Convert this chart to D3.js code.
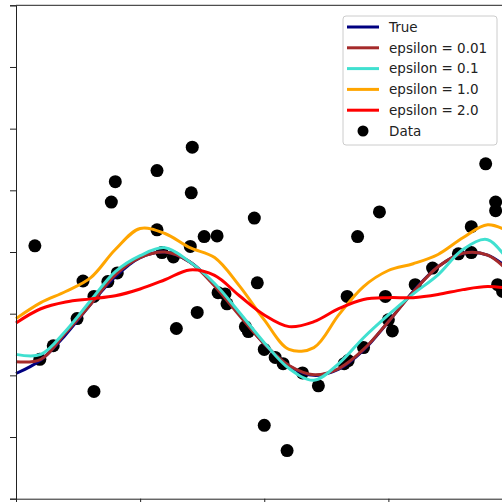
<!DOCTYPE html>
<html>
<head>
<meta charset="utf-8">
<script src="https://cdn.jsdelivr.net/npm/d3@7"></script>
<style>
  html, body { margin: 0; padding: 0; background: #fff; }
  svg { display: block; font-family: "DejaVu Sans", sans-serif; }
</style>
</head>
<body>
<svg id="chart" width="502" height="502"></svg>
<script>
// sample positions shared by all fitted curves
const xGrid = [0, 0.5, 1, 1.5, 2, 2.5, 3, 3.5, 4, 4.5, 5, 5.5, 6, 6.5, 7, 7.5, 8, 8.5, 9, 9.5, 10];

const yTrue  = [-0.97, -0.75, -0.34, 0.15, 0.60, 0.91, 1.00, 0.84, 0.47, -0.01, -0.49, -0.85, -1.00, -0.90, -0.59, -0.13, 0.36, 0.76, 0.98, 0.95, 0.67];
const yEps001 = [-0.78, -0.74, -0.31, 0.15, 0.63, 0.91, 1.00, 0.84, 0.45, -0.03, -0.49, -0.84, -0.99, -0.89, -0.58, -0.13, 0.35, 0.76, 0.98, 0.95, 0.62];
const yEps01 = [-0.66, -0.66, -0.28, 0.21, 0.68, 0.94, 1.07, 0.84, 0.49, 0.02, -0.47, -0.89, -1.08, -0.81, -0.39, -0.02, 0.32, 0.63, 1.04, 1.20, 0.75];
const yEps1  = [-0.08, 0.18, 0.36, 0.58, 1.04, 1.38, 1.30, 1.07, 0.91, 0.45, -0.10, -0.58, -0.55, -0.02, 0.44, 0.70, 0.81, 0.96, 1.23, 1.44, 1.30];
const yEps2  = [-0.15, 0.08, 0.19, 0.24, 0.29, 0.40, 0.55, 0.71, 0.62, 0.29, -0.02, -0.21, -0.13, 0.08, 0.23, 0.26, 0.26, 0.31, 0.39, 0.44, 0.40];

const seriesNames = ["True", "epsilon = 0.01", "epsilon = 0.1", "epsilon = 1.0", "epsilon = 2.0"];
const seriesColors = ["#000080", "#a52a2a", "#40e0d0", "#ffa500", "#ff0000"];
const seriesValues = [yTrue, yEps001, yEps01, yEps1, yEps2];

// noisy observations
const dataX = [0.38, 0.48, 0.75, 1.23, 1.35, 1.57, 1.57, 1.85, 1.92, 2.00, 2.04, 2.84, 2.84, 2.94, 3.17, 3.23, 3.51, 3.53, 3.55, 3.65,
               3.79, 4.05, 4.07, 4.21, 4.25, 4.62, 4.68, 4.80, 4.86, 5.00, 5.00, 5.22, 5.38, 5.46, 5.77, 6.09, 6.61, 6.69, 6.67, 6.88,
               7.00, 7.32, 7.44, 7.50, 7.58, 8.04, 8.39, 8.91, 9.17, 9.17, 9.46, 9.66, 9.66, 9.70, 9.80];
const dataY = [1.10, -0.74, -0.52, -0.08, 0.53, 0.28, -1.26, 0.52, 1.81, 2.14, 0.66, 2.32, 1.36, 0.99, 0.92, -0.24, 1.09, 1.96, 2.70, 0.02,
               1.25, 1.26, 0.34, 0.32, 0.16, -0.21, -0.29, 1.55, 0.50, -1.81, -0.58, -0.71, -0.81, -2.22, -0.96, -1.17, -0.81, -0.76, 0.28, 1.25,
               -0.55, 1.65, 0.28, -0.10, -0.28, 0.47, 0.74, 0.97, 0.99, 1.41, 2.43, 1.81, 1.67, 0.47, 0.36];

const xTicks = [0, 2.5, 5, 7.5, 10];
const yTicks = [-3, -2, -1, 0, 1, 2, 3, 4, 5];

const svg = d3.select("#chart");

const x = d3.scaleLinear().domain([0, 10]).range([16, 512.5]);
const y = d3.scaleLinear().domain([-3, 5]).range([498.7, 5.3]);

const plot = svg.append("g");

// scatter first, lines drawn over it
plot.selectAll("circle.dot")
    .data(dataX.map((d, i) => [d, dataY[i]]))
    .enter().append("circle")
    .attr("class", "dot")
    .attr("cx", d => x(d[0]))
    .attr("cy", d => y(d[1]))
    .attr("r", 6.5)
    .attr("fill", "#000");

const line = d3.line()
    .x((d, i) => x(xGrid[i]))
    .y(d => y(d))
    .curve(d3.curveCatmullRom.alpha(0.5));

seriesValues.forEach((vals, k) => {
    plot.append("path")
        .attr("d", line(vals))
        .attr("fill", "none")
        .attr("stroke", seriesColors[k])
        .attr("stroke-width", 3);
});

// axes (labels are cut off in the original crop)
svg.append("g")
    .attr("transform", `translate(${x.range()[0]},0)`)
    .call(d3.axisLeft(y).tickValues(yTicks).tickSize(6).tickFormat(""))
    .call(g => g.selectAll("line,path").attr("stroke", "#222"));

svg.append("g")
    .attr("transform", `translate(0,${y.range()[0]})`)
    .call(d3.axisBottom(x).tickValues(xTicks).tickSize(6).tickSizeOuter(0).tickFormat(""))
    .call(g => g.selectAll("line,path").attr("stroke", "#222"));

svg.append("line")
    .attr("x1", x.range()[0]).attr("x2", 502)
    .attr("y1", y.range()[1]).attr("y2", y.range()[1])
    .attr("stroke", "#222");

// legend
const legend = svg.append("g").attr("transform", "translate(343,16)");
legend.append("rect")
    .attr("width", 154).attr("height", 129)
    .attr("rx", 3)
    .attr("fill", "#fff").attr("fill-opacity", 0.8)
    .attr("stroke", "#ccc");

const rowY = i => 11 + i * 20.8;
seriesNames.forEach((name, i) => {
    legend.append("line")
        .attr("x1", 4).attr("x2", 36)
        .attr("y1", rowY(i)).attr("y2", rowY(i))
        .attr("stroke", seriesColors[i]).attr("stroke-width", 3);
    legend.append("text")
        .attr("x", 46).attr("y", rowY(i))
        .attr("dy", "0.35em")
        .attr("font-size", 13.5)
        .attr("fill", "#222")
        .text(name);
});
legend.append("circle")
    .attr("cx", 20).attr("cy", rowY(5))
    .attr("r", 5.5).attr("fill", "#000");
legend.append("text")
    .attr("x", 46).attr("y", rowY(5))
    .attr("dy", "0.35em")
    .attr("font-size", 13.5)
    .attr("fill", "#222")
    .text("Data");
</script>
</body>
</html>
